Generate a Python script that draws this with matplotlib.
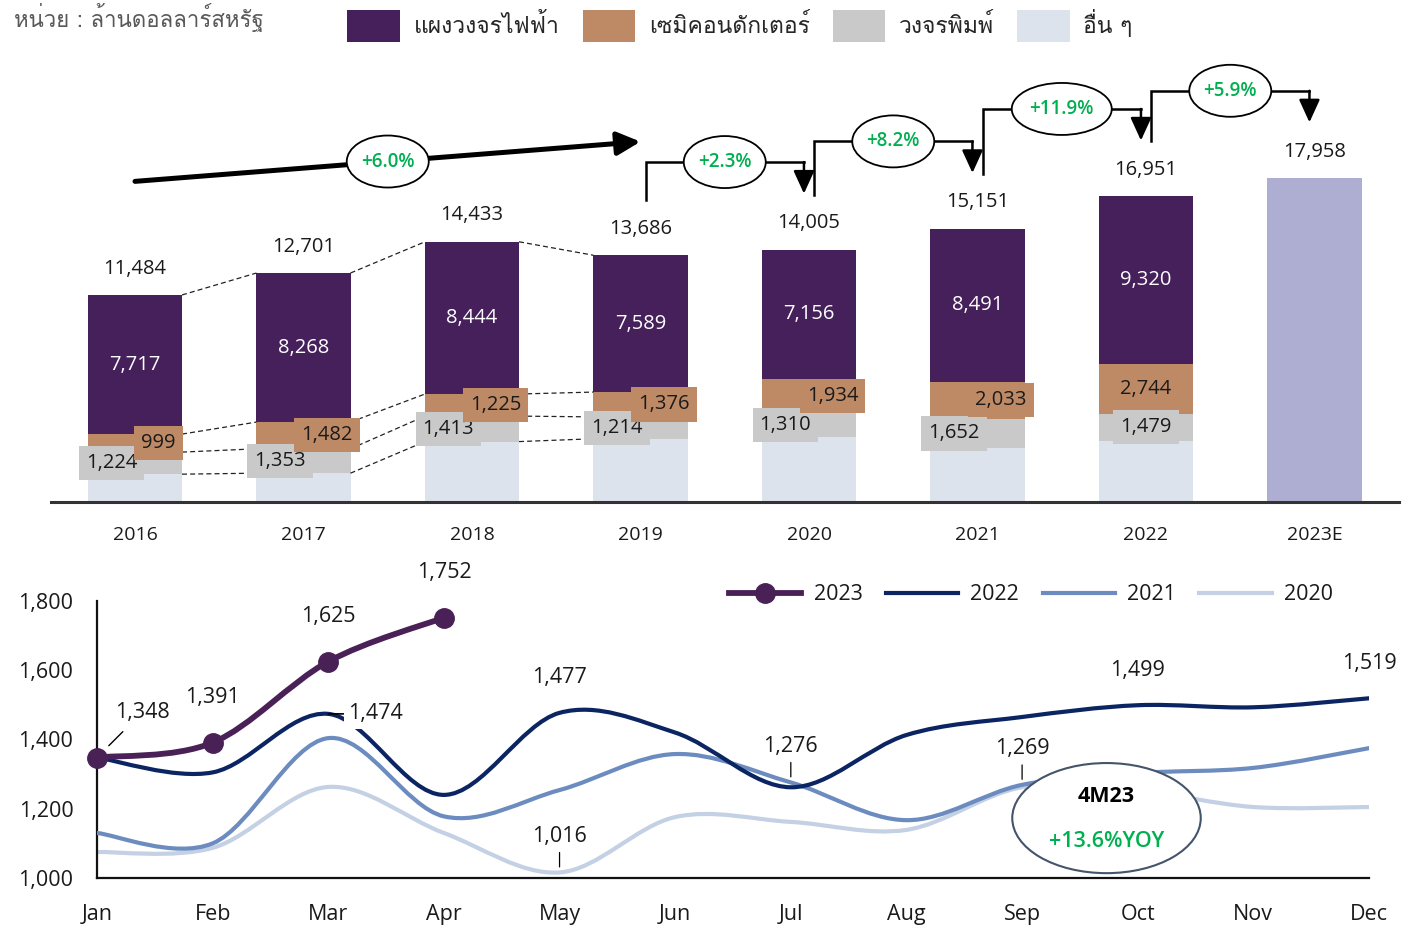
import numpy as np
import matplotlib
matplotlib.use("Agg")
import matplotlib.pyplot as plt
from matplotlib import font_manager
from matplotlib.ft2font import FT2Font
from matplotlib.path import Path
from matplotlib.patches import PathPatch, Ellipse, Patch
from matplotlib.lines import Line2D

# ---- data (top: yearly exports, bottom: monthly) ----
years = ['2016', '2017', '2018', '2019', '2020', '2021', '2022', '2023E']
total = [11484, 12701, 14433, 13686, 14005, 15151, 16951, 17958]
display = [7717, 8268, 8444, 7589, 7156, 8491, 9320]
semi = [999, 1482, 1225, 1376, 1934, 2033, 2744]
pcb = [1224, 1353, 1413, 1214, 1310, 1652, 1479]
growth = ['+6.0%', '+2.3%', '+8.2%', '+11.9%', '+5.9%']
seg_names = ['แผงวงจรไฟฟ้า', 'เซมิคอนดักเตอร์', 'วงจรพิมพ์', 'อื่น ๆ']
unit_text = 'หน่วย : ล้านดอลลาร์สหรัฐ'

months = ['Jan', 'Feb', 'Mar', 'Apr', 'May', 'Jun',
          'Jul', 'Aug', 'Sep', 'Oct', 'Nov', 'Dec']
m2023 = [1348, 1391, 1625, 1752]
m2022 = [1348, 1305, 1474, 1240, 1477, 1420, 1262, 1413, 1465, 1499, 1493, 1519]
m2021 = [1130, 1100, 1404, 1178, 1254, 1358, 1276, 1167, 1269, 1303, 1318, 1375]
m2020 = [1075, 1087, 1263, 1130, 1016, 1176, 1162, 1139, 1262, 1252, 1205, 1205]

# colours
c_disp = '#46205A'
c_semi = '#BE8A66'
c_pcb = '#C9C9C9'
c_oth = '#DDE3ED'
c_est = '#ADAED1'
c_green = '#00B050'
c23, c22, c21, c20 = '#4A2157', '#0B2462', '#6C8CBF', '#C4D0E4'

# find a font that has thai glyphs
thai = []
for f in font_manager.fontManager.ttflist:
    try:
        if 0x0E01 in FT2Font(f.fname).get_charmap() and f.name not in thai:
            thai.append(f.name)
    except Exception:
        pass
plt.rcParams['font.family'] = ['Open Sans'] + thai + ['DejaVu Sans']
thai_family = thai + ['Open Sans', 'DejaVu Sans']
txt = '#1a1a1a'


def smooth_path(xs, ys):
    # excel-like smoothed line as bezier segments
    pts = np.column_stack([xs, ys]).astype(float)
    n = len(pts)
    verts = [pts[0]]
    codes = [Path.MOVETO]
    for i in range(n - 1):
        p0 = pts[i - 1] if i > 0 else pts[i]
        p3 = pts[i + 2] if i + 2 < n else pts[i + 1]
        verts += [pts[i] + (pts[i + 1] - p0) / 6,
                  pts[i + 1] - (p3 - pts[i]) / 6, pts[i + 1]]
        codes += [Path.CURVE4] * 3
    return Path(verts, codes)


fig = plt.figure(figsize=(14.22, 9.26), dpi=100)
W, H = 1422, 926

# ================= top bar chart =================
ax1 = fig.add_axes([50.75 / W, (H - 502) / H, 1348 / W, (502 - 69.3) / H])
n = len(display)
hx = np.arange(n)
others = np.array(total[:n]) - np.array(display) - np.array(semi) - np.array(pcb)
lev1 = others
lev2 = lev1 + np.array(pcb)
lev3 = lev2 + np.array(semi)
w = 0.558
ax1.bar(hx, others, w, color=c_oth)
ax1.bar(hx, pcb, w, bottom=lev1, color=c_pcb)
ax1.bar(hx, semi, w, bottom=lev2, color=c_semi)
ax1.bar(hx, display, w, bottom=lev3, color=c_disp)
ax1.bar(n, total[n], w, color=c_est)
ax1.set_xlim(-0.5, 7.5)
ax1.set_ylim(0, 24000)
for s in ['top', 'left', 'right']:
    ax1.spines[s].set_visible(False)
ax1.spines['bottom'].set_linewidth(2.2)
ax1.spines['bottom'].set_color('#333333')
ax1.set_yticks([])
ax1.set_xticks(range(len(years)), years)
ax1.tick_params(axis='x', length=0, pad=17, labelsize=14, labelcolor=txt)

# dashed connectors between the first bars
for i in range(3):
    for lv in [lev1, lev2, lev3, total]:
        ax1.plot([i + w / 2, i + 1 - w / 2], [lv[i], lv[i + 1]], ls=(0, (4, 2.5)),
                 lw=0.9, color='#222222', zorder=1)

for i in range(n):
    d = 0.14 if i < n - 1 else 0.0
    ax1.text(i - d, (lev1[i] + lev2[i]) / 2, f'{pcb[i]:,}', ha='center', va='center',
             fontsize=14.5, color=txt, zorder=4,
             bbox=dict(boxstyle='square,pad=0.35', fc=c_pcb, ec='none'))
    ax1.text(i + d, (lev2[i] + lev3[i]) / 2, f'{semi[i]:,}', ha='center', va='center',
             fontsize=14.5, color=txt, zorder=5,
             bbox=dict(boxstyle='square,pad=0.35', fc=c_semi, ec='none'))
    ax1.text(i, (lev3[i] + total[i]) / 2, f'{display[i]:,}', ha='center', va='center',
             fontsize=14.5, color='white')
for i, t in enumerate(total):
    ax1.annotate(f'{t:,}', (i, t), xytext=(0, 19), textcoords='offset points',
                 ha='center', va='center', fontsize=14.5, color=txt)

# growth arrows
def bubble(xc, yc, label, wpx=82):
    ax1.add_patch(Ellipse((xc, yc), wpx / 168.5, 52 / 0.01803, fc='white', ec='black',
                          lw=1.3, zorder=6, clip_on=False))
    ax1.text(xc, yc, label, ha='center', va='center', fontsize=13.5, color=c_green,
             fontweight='semibold', zorder=7)

y0, y1 = total[0] + 6300, total[3] + 6300
ax1.annotate('', xy=(3, y1), xytext=(0, y0), annotation_clip=False,
             arrowprops=dict(arrowstyle='-|>,head_length=0.7,head_width=0.35', lw=3.6,
                             color='black', shrinkA=0, shrinkB=0, mutation_scale=20))
bubble(1.5, (y0 + y1) / 2, growth[0])
for k, i in enumerate(range(3, 7)):
    xs, xe = i + 0.03, i + 0.97
    lv = max(total[i], total[i + 1]) + 4850
    ax1.plot([xs, xs, xe], [total[i] + 3050, lv, lv], lw=1.8, color='black',
             clip_on=False, solid_joinstyle='miter')
    ax1.annotate('', xy=(xe, total[i + 1] + 3100), xytext=(xe, lv), annotation_clip=False,
                 arrowprops=dict(arrowstyle='-|>,head_length=0.7,head_width=0.32', lw=1.8,
                                 color='black', shrinkA=0, shrinkB=0, mutation_scale=20))
    bubble((xs + xe) / 2, lv, growth[k + 1], 100 if len(growth[k + 1]) > 5 else 82)

# legend + unit
handles = [Patch(fc=c, ec='none') for c in [c_disp, c_semi, c_pcb, c_oth]]
fig.legend(handles, seg_names, loc='center', bbox_to_anchor=(740 / W, (H - 26) / H),
           ncol=4, frameon=False, prop=dict(family=thai_family, size=16.5),
           handlelength=2.3, handleheight=1.75, handletextpad=0.59, columnspacing=1.0,
           labelcolor='#262626')
fig.text(14 / W, 1 - 27 / H, unit_text, family=thai_family, fontsize=16,
         color='#595959', va='baseline')

# ================= bottom line chart =================
ax2 = fig.add_axes([97 / W, 48 / H, 1272 / W, 277 / H])
mx = np.arange(12)
for vals, c, z in [(m2020, c20, 2), (m2021, c21, 3), (m2022, c22, 4)]:
    ax2.add_patch(PathPatch(smooth_path(mx, vals), fill=False, ec=c, lw=3.0,
                            zorder=z, capstyle='round'))
ax2.add_patch(PathPatch(smooth_path(mx[:4], m2023), fill=False, ec=c23, lw=4.2,
                        zorder=5, clip_on=False))
ax2.plot(mx[:4], m2023, ls='none', marker='o', ms=14, color=c23, zorder=6, clip_on=False)
ax2.set_xlim(0, 11)
ax2.set_ylim(1000, 1800)
ax2.set_yticks([1000, 1200, 1400, 1600, 1800], ['1,000', '1,200', '1,400', '1,600', '1,800'])
ax2.set_xticks(mx, months)
ax2.tick_params(length=0, labelsize=15.5, labelcolor=txt)
ax2.tick_params(axis='x', pad=18.5)
ax2.tick_params(axis='y', pad=17)
for s in ['top', 'right']:
    ax2.spines[s].set_visible(False)
for s in ['left', 'bottom']:
    ax2.spines[s].set_linewidth(1.6)
    ax2.spines[s].set_color('#111111')

# value labels
for i, v in enumerate(m2023):
    dx = 45 if i == 0 else 0
    ax2.annotate(f'{v:,}', (i, v), xytext=(dx * 0.72, 45 * 0.72), textcoords='offset points',
                 ha='center', va='center', fontsize=15.5, color=txt, zorder=8,
                 annotation_clip=False,
                 arrowprops=dict(arrowstyle='-', lw=1, color='black', shrinkA=6, shrinkB=12)
                 if i == 0 else None)
ax2.annotate(f'{m2022[2]:,}', (2, m2022[2]), xytext=(47 * 0.72, 0), textcoords='offset points',
             ha='center', va='center', fontsize=15.5, color=txt, zorder=4.5,
             bbox=dict(boxstyle='square,pad=0.2', fc='white', ec='none'),
             arrowprops=dict(arrowstyle='-', lw=1.2, color='black', shrinkA=0, shrinkB=12))
for i, v in [(4, m2022[4]), (9, m2022[9]), (11, m2022[11])]:
    ax2.annotate(f'{v:,}', (i, v), xytext=(0, 35 * 0.72), textcoords='offset points',
                 ha='center', va='center', fontsize=15.5, color=txt, annotation_clip=False)
for i, v in [(6, m2021[6]), (8, m2021[8]), (4, m2020[4])]:
    ax2.annotate(f'{v:,}', (i, v), xytext=(0, 36 * 0.72), textcoords='offset points',
                 ha='center', va='center', fontsize=15.5, color=txt,
                 arrowprops=dict(arrowstyle='-', lw=0.9, color='black', shrinkA=2, shrinkB=4))

# 4M23 bubble
ax2.add_patch(Ellipse((8.73, 1173), 1.63, 318, fc='white', ec='#44546A', lw=1.5, zorder=7))
ax2.text(8.73, 1234, '4M23', ha='center', va='center', fontsize=15.5, fontweight='bold',
         color='black', zorder=8)
ax2.text(8.73, 1104, '+13.6%YOY', ha='center', va='center', fontsize=15.5,
         fontweight='semibold', color=c_green, zorder=8)

lh = [Line2D([], [], color=c23, lw=4.2, marker='o', ms=14),
      Line2D([], [], color=c22, lw=3),
      Line2D([], [], color=c21, lw=3),
      Line2D([], [], color=c20, lw=3)]
ax2.legend(lh, ['2023', '2022', '2021', '2020'], loc='center', ncol=4, frameon=False,
           bbox_to_anchor=(1031 / W, (H - 595) / H), bbox_transform=fig.transFigure,
           fontsize=15.5, handlelength=3.35, handletextpad=0.56, columnspacing=1.1,
           labelcolor=txt)

fig.savefig('out.png', dpi=100)
